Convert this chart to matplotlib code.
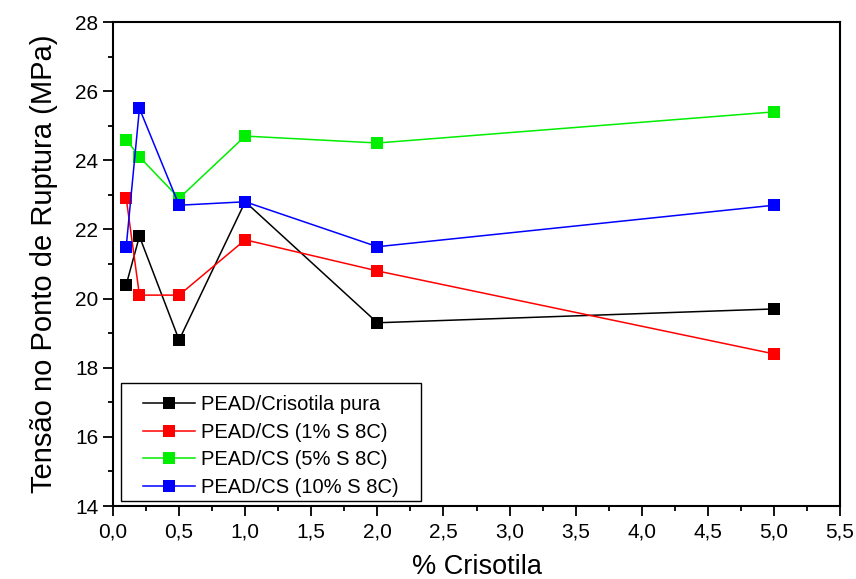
import numpy as np
import matplotlib
matplotlib.use("Agg")
import matplotlib.pyplot as plt
from matplotlib.patches import Rectangle
from matplotlib.ticker import MultipleLocator, FuncFormatter

plt.rcParams["font.family"] = ["Liberation Sans", "DejaVu Sans"]

# % crisotila
x = [0.1, 0.2, 0.5, 1.0, 2.0, 5.0]

# tensao no ponto de ruptura (MPa)
pura = [20.4, 21.8, 18.8, 22.8, 19.3, 19.7]
cs_1 = [22.9, 20.1, 20.1, 21.7, 20.8, 18.4]
cs_5 = [24.6, 24.1, 22.9, 24.7, 24.5, 25.4]
cs_10 = [21.5, 25.5, 22.7, 22.8, 21.5, 22.7]

labels = ["PEAD/Crisotila pura", "PEAD/CS (1% S 8C)",
          "PEAD/CS (5% S 8C)", "PEAD/CS (10% S 8C)"]
colors = ["#000000", "#ff0000", "#00ee00", "#0000ff"]

W, H = 856, 579
L, R, T, B = 113, 840, 22, 506
fig = plt.figure(figsize=(W / 100, H / 100), dpi=100)
ax = fig.add_axes([L / W, 1 - B / H, (R - L) / W, (B - T) / H])
aw, ah = R - L, B - T

for ys, lab, c in zip([pura, cs_1, cs_5, cs_10], labels, colors):
    ax.plot(x, ys, color=c, lw=1.1, marker="s", ms=8.5, mfc=c, mew=0,
            label=lab)

ax.set_xlim(0, 5.5)
ax.set_ylim(14, 28)
ax.xaxis.set_major_locator(MultipleLocator(0.5))
ax.xaxis.set_minor_locator(MultipleLocator(0.25))
ax.yaxis.set_major_locator(MultipleLocator(2))
ax.yaxis.set_minor_locator(MultipleLocator(1))
ax.xaxis.set_major_formatter(FuncFormatter(lambda v, p: f"{v:.1f}".replace(".", ",")))
ax.tick_params(which="major", direction="out", length=7, width=1.3, labelsize=15)
ax.tick_params(which="minor", direction="out", length=3.5, width=1.3)
ax.tick_params(axis="x", pad=5)
for s in ax.spines.values():
    s.set_linewidth(1.5)

ax.set_xlabel("% Crisotila", fontsize=19.5, labelpad=9)
ax.set_ylabel("Tensão no Ponto de Ruptura (MPa)", fontsize=21, labelpad=12)

# legend box drawn separately (wider side padding than top/bottom)
ax.add_patch(Rectangle(((121 - L) / aw, (B - 501) / ah), 300 / aw, 118 / ah,
                       transform=ax.transAxes, fill=True, fc="white",
                       ec="black", lw=1.0, zorder=4))
leg = ax.legend(loc="upper left", bbox_to_anchor=((143 - L) / aw, (B - 395) / ah),
                fontsize=14.5, frameon=False, handlelength=2.6,
                handletextpad=0.3, labelspacing=0.43, borderpad=0.0,
                borderaxespad=0.0)
leg.set_zorder(5)

fig.savefig("out.png", dpi=100)
